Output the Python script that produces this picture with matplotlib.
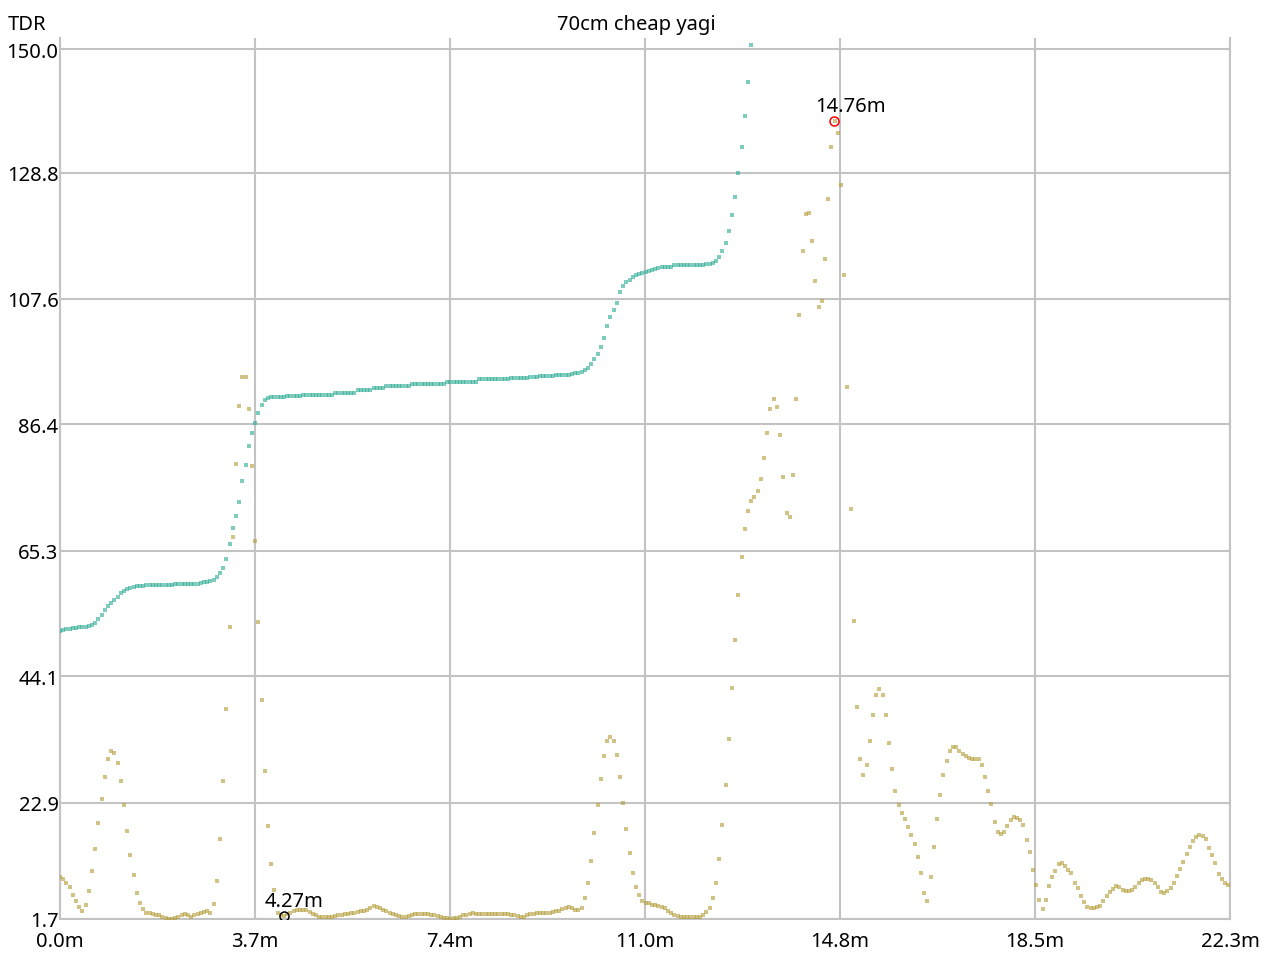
import matplotlib
matplotlib.use('Agg')
import matplotlib.pyplot as plt
import numpy as np

plt.rcParams['font.family'] = ['Noto Sans', 'DejaVu Sans']

step = 0.061  # metres between two TDR samples

# impedance trace (teal), goes off the top of the chart after 13.2 m
teal_values = [
    50.8, 51.0, 51.1, 51.2, 51.3, 51.3, 51.4, 51.5, 51.5, 51.7,
    51.9, 52.2, 52.9, 53.6, 54.3, 55.0, 55.6, 56.0, 56.6, 57.2,
    57.6, 57.9, 58.2, 58.3, 58.4, 58.5, 58.5, 58.6, 58.6, 58.7,
    58.7, 58.7, 58.7, 58.7, 58.7, 58.7, 58.8, 58.8, 58.8, 58.8,
    58.8, 58.8, 58.8, 58.8, 59.0, 59.1, 59.2, 59.3, 59.5, 60.0,
    60.7, 61.6, 63.0, 65.6, 68.4, 70.4, 72.7, 76.4, 79.1, 82.4,
    84.6, 86.2, 88.0, 89.3, 90.1, 90.5, 90.6, 90.6, 90.7, 90.7,
    90.7, 90.8, 90.8, 90.8, 90.9, 90.9, 91.0, 91.1, 91.1, 91.1,
    91.1, 91.1, 91.1, 91.1, 91.1, 91.1, 91.4, 91.4, 91.4, 91.4,
    91.4, 91.4, 91.4, 91.8, 91.8, 91.8, 91.8, 91.8, 92.2, 92.2,
    92.2, 92.2, 92.5, 92.5, 92.5, 92.5, 92.5, 92.5, 92.5, 92.5,
    92.9, 92.9, 92.9, 92.9, 92.9, 92.9, 92.9, 92.9, 92.9, 92.9,
    92.9, 93.3, 93.3, 93.3, 93.3, 93.3, 93.3, 93.3, 93.3, 93.3,
    93.3, 93.7, 93.7, 93.7, 93.7, 93.7, 93.7, 93.7, 93.8, 93.8,
    93.8, 93.9, 93.9, 93.9, 94.0, 94.0, 94.0, 94.1, 94.1, 94.1,
    94.2, 94.2, 94.3, 94.3, 94.3, 94.4, 94.4, 94.4, 94.4, 94.5,
    94.6, 94.8, 94.8, 94.9, 95.2, 95.6, 96.3, 97.1, 98.0, 99.2,
    100.8, 102.8, 104.4, 105.5, 106.7, 108.6, 109.6, 110.2, 110.7, 111.2,
    111.5, 111.7, 111.8, 112.0, 112.2, 112.4, 112.5, 112.7, 112.8, 112.8,
    112.8, 112.8, 113.2, 113.2, 113.2, 113.2, 113.2, 113.2, 113.2, 113.2,
    113.2, 113.2, 113.3, 113.4, 113.6, 113.9, 114.6, 115.6, 117.0, 119.0,
    121.7, 124.8, 128.9, 133.3, 138.5, 144.3, 150.7,
]

# reflection trace (khaki), full 0 - 22.3 m
khaki_values = [
    8.8, 8.6, 7.9, 7.1, 5.8, 4.8, 3.8, 3.1, 4.1, 6.5,
    9.9, 13.7, 18.1, 22.2, 25.9, 29.0, 30.4, 30.0, 28.3, 25.3,
    21.2, 16.7, 12.6, 9.2, 6.2, 4.5, 3.4, 2.8, 2.8, 2.5,
    2.4, 2.3, 2.1, 1.9, 1.7, 1.7, 1.8, 2.1, 2.3, 2.5,
    2.4, 2.1, 2.4, 2.5, 2.7, 2.9, 3.1, 2.8, 4.2, 8.2,
    15.4, 25.3, 37.5, 51.5, 66.9, 79.3, 89.1, 94.1, 94.1, 88.7,
    79.0, 66.2, 52.4, 39.0, 26.9, 17.5, 11.1, 6.7, 2.8, 2.4,
    2.2, 2.6, 2.8, 3.0, 3.2, 3.2, 3.2, 3.2, 2.9, 2.6,
    2.3, 2.1, 2.1, 2.1, 2.1, 2.1, 2.2, 2.3, 2.4, 2.5,
    2.6, 2.7, 2.8, 2.9, 3.0, 3.1, 3.3, 3.5, 3.85, 3.8,
    3.5, 3.3, 3.0, 2.7, 2.5, 2.3, 2.2, 2.1, 2.1, 2.2,
    2.4, 2.5, 2.5, 2.5, 2.5, 2.5, 2.4, 2.3, 2.2, 2.1,
    1.9, 1.8, 1.7, 1.8, 1.9, 2.1, 2.3, 2.4, 2.6, 2.7,
    2.6, 2.5, 2.5, 2.5, 2.5, 2.5, 2.5, 2.5, 2.5, 2.5,
    2.5, 2.4, 2.3, 2.2, 2.1, 2.1, 2.3, 2.5, 2.6, 2.7,
    2.8, 2.8, 2.8, 2.8, 2.9, 3.0, 3.1, 3.4, 3.6, 3.8,
    3.6, 3.2, 3.3, 3.5, 5.2, 7.9, 11.6, 16.4, 21.2, 25.6,
    29.4, 32.1, 32.8, 32.1, 29.7, 25.9, 21.5, 17.1, 13.0, 9.6,
    7.2, 5.8, 4.8, 4.5, 4.5, 4.1, 4.1, 4.0, 3.8, 3.5,
    3.1, 2.8, 2.4, 2.2, 2.1, 2.1, 2.1, 2.1, 2.1, 2.1,
    2.1, 2.4, 2.9, 3.5, 5.2, 7.9, 12.0, 17.8, 24.6, 32.4,
    41.1, 49.3, 56.9, 63.4, 68.2, 71.3, 73.0, 73.7, 74.7, 76.7,
    80.2, 84.6, 88.7, 90.4, 89.0, 84.2, 77.1, 70.9, 70.3, 77.4,
    90.4, 104.7, 115.6, 121.8, 122.1, 117.3, 110.5, 106.1, 107.1, 114.2,
    124.5, 133.3, 137.8, 135.7, 126.9, 111.5, 92.4, 71.6, 52.5, 37.9,
    29.0, 26.3, 28.0, 32.1, 36.5, 39.9, 40.9, 39.9, 36.5, 31.7,
    27.3, 23.6, 21.2, 19.8, 18.8, 17.4, 16.1, 14.4, 12.3, 9.6,
    6.2, 4.8, 8.9, 14.0, 18.8, 22.9, 26.3, 28.7, 30.4, 31.1,
    31.1, 30.3, 29.8, 29.4, 29.1, 29.0, 29.0, 28.9, 28.0, 25.9,
    23.6, 21.3, 18.2, 16.6, 16.2, 16.6, 17.5, 18.6, 19.1, 18.9,
    18.6, 17.7, 15.2, 13.2, 10.0, 7.5, 5.0, 3.4, 5.0, 7.3,
    8.9, 9.9, 11.1, 11.3, 10.8, 10.1, 9.5, 7.9, 7.0, 5.7,
    4.6, 3.8, 3.5, 3.5, 3.8, 4.0, 4.7, 5.6, 6.3, 6.8,
    7.3, 7.1, 6.7, 6.5, 6.5, 6.7, 7.2, 7.8, 8.3, 8.6,
    8.6, 8.4, 7.8, 7.1, 6.3, 6.2, 6.4, 6.9, 7.8, 9.1,
    10.2, 11.4, 12.8, 14.0, 15.0, 15.6, 16.1, 15.9, 15.3, 13.8,
    12.6, 11.2, 9.4, 8.5, 7.9, 7.5,
]

x_max = 22.3
x_labels = ['0.0m', '3.7m', '7.4m', '11.0m', '14.8m', '18.5m', '22.3m']
# the grid of the original sits a little off the printed values, ticks follow the picture
y_tick_pos = [1.7, 21.5, 43.1, 64.5, 86.0, 107.4, 128.9, 150.0]
y_labels = ['1.7', '22.9', '44.1', '65.3', '86.4', '107.6', '128.8', '150.0']

markers = [4.27, 14.76]
marker_colors = ['black', 'red']

teal_dist = np.arange(len(teal_values)) * step
khaki_dist = np.arange(len(khaki_values)) * step

W, H = 1270, 970
fig = plt.figure(figsize=(W / 100, H / 100), dpi=100)
ax = fig.add_axes([60 / W, (H - 920) / H, 1170 / W, 881 / H])

grid_color = '#c3c3c3'
ax.scatter(khaki_dist, khaki_values, marker='s', s=11, color='#b39a34', alpha=0.6, linewidths=0, zorder=3)
ax.scatter(teal_dist, teal_values, marker='s', s=11, color='#27aa91', alpha=0.6, linewidths=0, zorder=3)

for pos, col in zip(markers, marker_colors):
    idx = int(round(pos / step))
    val = khaki_values[idx]
    ax.plot(pos, val, 'o', ms=6.5, mfc='none', mec=col, mew=1.1, zorder=5)
    ax.annotate(f'{pos:.2f}m', xy=(pos, val), xytext=(-14, 7), textcoords='offset points',
                ha='left', va='baseline', fontsize=14.5, color='black')

ax.set_xlim(0, x_max)
ax.set_ylim(1.7, 150 + 11 / 5.866)
ax.set_xticks(np.linspace(0, x_max, len(x_labels)))
ax.set_xticklabels(x_labels)
ax.set_yticks(y_tick_pos)
ax.set_yticklabels(y_labels)
ax.tick_params(length=0, labelsize=14.5, colors='black')
ax.tick_params(axis='y', pad=1)
ax.tick_params(axis='x', pad=9)
ax.grid(True, color=grid_color, linewidth=1.5)
ax.set_axisbelow(True)
for side in ['left', 'right', 'bottom']:
    ax.spines[side].set_color(grid_color)
    ax.spines[side].set_linewidth(1.5)
ax.spines['top'].set_visible(False)

fig.text(8 / W, 1 - 30 / H, 'TDR', fontsize=14.5, ha='left', va='baseline')
fig.text(636 / W, 1 - 30 / H, '70cm cheap yagi', fontsize=14.5, ha='center', va='baseline')

plt.savefig('out.png', dpi=100)
